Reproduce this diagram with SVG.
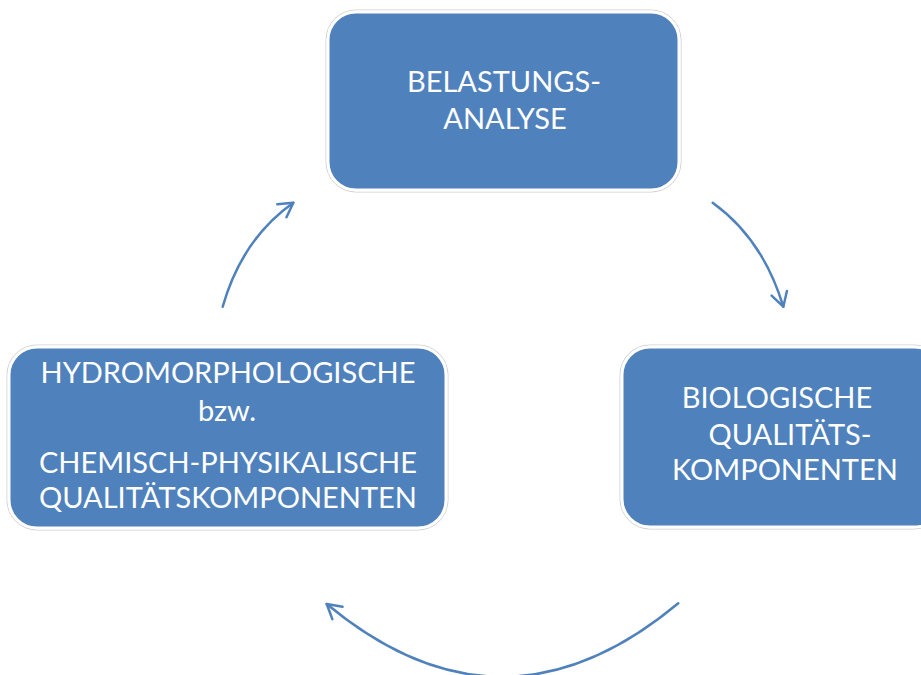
<svg xmlns="http://www.w3.org/2000/svg" width="921" height="675" viewBox="0 0 921 675">
<style>
.box{fill:#4F81BD;stroke:#ffffff;stroke-width:3}
.halo{fill:none;stroke:#d0d0d0;stroke-width:1}
.t{font-family:Lato,"Open Sans",sans-serif;font-size:29px;fill:#ffffff;text-anchor:middle}
.arc{fill:none;stroke:#4F81BD;stroke-width:2.5;stroke-linecap:round}
</style>
<defs>
<marker id="ah" markerUnits="userSpaceOnUse" markerWidth="30" markerHeight="30" refX="0" refY="0" viewBox="-20 -15 30 30" orient="auto" overflow="visible">
<path d="M-14,-8 L0,0 L-14,8" fill="none" stroke="#4F81BD" stroke-width="2.5" stroke-linecap="round" stroke-linejoin="round"/>
</marker>
</defs>
<rect width="921" height="675" fill="#ffffff"/>
<g id="connectors">
<path class="arc" d="M222.7,306.7 Q242,239 293.3,202.7" marker-end="url(#ah)"/>
<path class="arc" d="M712.7,202.7 Q763,239 783.3,306.7" marker-end="url(#ah)"/>
<path class="arc" d="M678.3,603.3 Q502.5,750 326.7,604" marker-end="url(#ah)"/>
</g>
<g id="node-belastung">
<rect class="halo" x="326" y="10" width="355" height="182" rx="30"/>
<rect class="box" x="328" y="12" width="351" height="178" rx="28"/>
<text class="t" x="504" y="92">BELASTUNGS-</text>
<text class="t" x="505" y="129">ANALYSE</text>
</g>
<g id="node-biologisch">
<rect class="halo" x="620" y="345" width="324" height="184" rx="30"/>
<rect class="box" x="622" y="347" width="320" height="180" rx="28"/>
<text class="t" x="777" y="408">BIOLOGISCHE</text>
<text class="t" x="790" y="445">QUALITÄTS-</text>
<text class="t" x="785" y="480">KOMPONENTEN</text>
</g>
<g id="node-hydro">
<rect class="halo" x="7" y="345" width="441" height="185" rx="30"/>
<rect class="box" x="9" y="347" width="437" height="181" rx="28"/>
<text class="t" x="228" y="383">HYDROMORPHOLOGISCHE</text>
<text class="t" x="227" y="421">bzw.</text>
<text class="t" x="228" y="473">CHEMISCH-PHYSIKALISCHE</text>
<text class="t" x="228" y="508">QUALITÄTSKOMPONENTEN</text>
</g>
</svg>
